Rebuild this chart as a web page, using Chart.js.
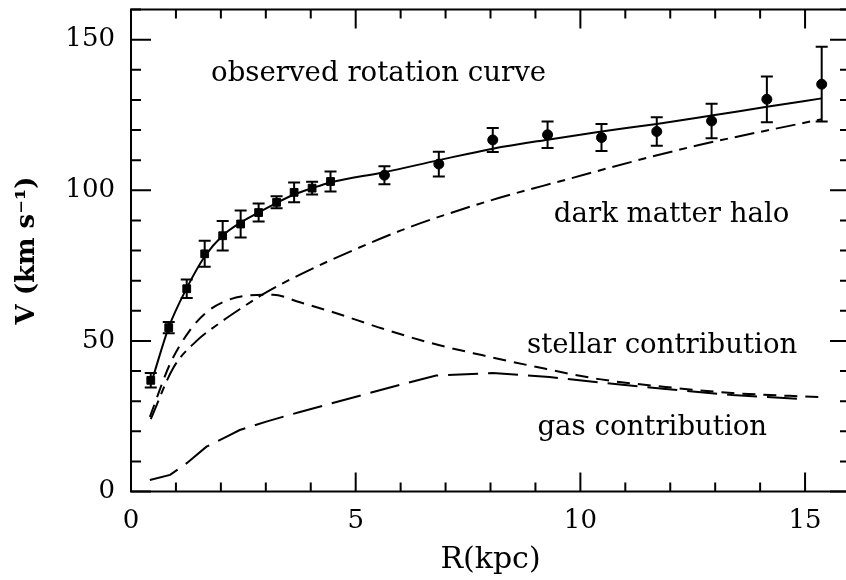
<!DOCTYPE html>
<html>
<head>
<meta charset="utf-8">
<script src="https://cdn.jsdelivr.net/npm/chart.js@4.4.0/dist/chart.umd.min.js"></script>
<style>
  html, body { margin: 0; padding: 0; background: #fff; overflow: hidden; }
  canvas { display: block; }
</style>
</head>
<body>
<canvas id="rc" width="860" height="580"></canvas>
<script>
// Observed rotation velocities (kpc, km/s) with 1-sigma errors
const obsR   = [0.44, 0.84, 1.24, 1.64, 2.04, 2.44, 2.84, 3.24, 3.63, 4.03, 4.44, 5.64, 6.85, 8.05, 9.27, 10.47, 11.70, 12.92, 14.15, 15.37];
const obsV   = [36.9, 54.4, 67.3, 78.9, 84.9, 88.8, 92.6, 96.0, 99.3, 100.7, 102.9, 105.0, 108.7, 116.7, 118.4, 117.5, 119.5, 123.0, 130.2, 135.2];
const obsErr = [2.4, 1.9, 3.1, 4.3, 4.9, 4.5, 3.0, 2.0, 3.3, 2.1, 3.3, 3.0, 4.1, 4.0, 4.4, 4.5, 4.7, 5.7, 7.6, 12.4];

// Total model fit
const fitR = [0.49, 0.84, 1.24, 1.64, 2.04, 2.44, 2.84, 3.24, 3.63, 4.03, 4.44, 5.64, 6.85, 8.05, 9.27, 10.47, 11.70, 12.92, 14.15, 15.37];
const fitV = [38.0, 54.5, 67.5, 78.0, 85.0, 89.3, 92.6, 95.8, 98.6, 100.7, 102.6, 106.0, 110.0, 113.8, 116.8, 119.5, 122.0, 124.8, 127.7, 130.5];

// Dark matter halo component
const haloR = [0.44, 0.94, 1.46, 1.98, 2.42, 2.94, 3.76, 4.93, 5.98, 6.72, 8.20, 9.68, 11.16, 12.64, 15.37];
const haloV = [24.0, 41.0, 50.0, 56.0, 60.5, 65.5, 72.0, 80.0, 86.5, 90.5, 97.5, 103.5, 109.5, 115.0, 123.6];

// Stellar disk component
const starR = [0.42, 0.87, 1.31, 1.68, 2.13, 2.64, 3.16, 3.76, 4.50, 5.61, 6.72, 7.83, 8.94, 10.42, 11.90, 13.38, 15.35];
const starV = [24.8, 42.4, 53.5, 59.5, 63.4, 65.1, 65.3, 62.8, 59.5, 54.0, 49.1, 45.2, 41.6, 37.3, 34.7, 32.7, 31.3];

// Gas component
const gasR = [0.42, 0.87, 1.24, 1.68, 2.13, 2.42, 3.01, 3.76, 5.98, 6.79, 8.05, 9.31, 10.42, 11.90, 13.38, 15.00];
const gasV = [3.8, 5.5, 9.4, 14.9, 18.2, 20.4, 23.2, 26.4, 35.4, 38.5, 39.3, 38.0, 36.2, 34.0, 32.0, 30.6];

// Axis ticks
const xTicks = [0, 5, 10, 15];
const yTicks = [0, 50, 100, 150];

// In-plot labels, placed in data coordinates (R, V at text baseline)
const labelText = ['observed rotation curve', 'dark matter halo', 'stellar contribution', 'gas contribution'];
const labelR    = [5.51, 12.03, 11.82, 11.60];
const labelV    = [136.4, 89.5, 46.1, 18.75];

const pts = (xs, ys) => xs.map((x, i) => ({ x: x, y: ys[i] }));

// Closed frame with inward ticks on all four sides
const frameTicks = {
  id: 'frameTicks',
  afterDraw(chart) {
    const { ctx, chartArea: a, scales: { x, y } } = chart;
    ctx.save();
    ctx.strokeStyle = '#000';
    ctx.lineWidth = 2;
    ctx.beginPath();
    for (let v = 0; v <= 16; v++) {
      const px = x.getPixelForValue(v);
      const len = v % 5 === 0 ? 19 : 9;
      ctx.moveTo(px, a.bottom); ctx.lineTo(px, a.bottom - len);
      ctx.moveTo(px, a.top);    ctx.lineTo(px, a.top + len);
    }
    for (let v = 0; v <= 160; v += 10) {
      const py = y.getPixelForValue(v);
      const len = v % 50 === 0 ? 20 : 10;
      ctx.moveTo(a.left, py);  ctx.lineTo(a.left + len, py);
      ctx.moveTo(a.right, py); ctx.lineTo(a.right - len, py);
    }
    ctx.stroke();
    ctx.strokeRect(a.left, a.top, a.right - a.left, a.bottom - a.top);
    ctx.restore();
  }
};

// Vertical error bars with caps for the observed points
const errorBars = {
  id: 'errorBars',
  afterDatasetsDraw(chart) {
    const { ctx, scales: { x, y } } = chart;
    ctx.save();
    ctx.strokeStyle = '#000';
    ctx.lineWidth = 2;
    ctx.beginPath();
    obsR.forEach((r, i) => {
      const px = x.getPixelForValue(r);
      const hi = y.getPixelForValue(obsV[i] + obsErr[i]);
      const lo = y.getPixelForValue(obsV[i] - obsErr[i]);
      ctx.moveTo(px, hi); ctx.lineTo(px, lo);
      ctx.moveTo(px - 6, hi); ctx.lineTo(px + 6, hi);
      ctx.moveTo(px - 6, lo); ctx.lineTo(px + 6, lo);
    });
    ctx.stroke();
    ctx.restore();
  }
};

// Component labels
const curveLabels = {
  id: 'curveLabels',
  afterDraw(chart) {
    const { ctx, scales: { x, y } } = chart;
    ctx.save();
    ctx.fillStyle = '#000';
    ctx.font = '27.6px "DejaVu Serif"';
    ctx.textAlign = 'center';
    ctx.textBaseline = 'alphabetic';
    labelText.forEach((t, i) => {
      ctx.fillText(t, x.getPixelForValue(labelR[i]), y.getPixelForValue(labelV[i]));
    });
    ctx.restore();
  }
};

const lineDs = (data, dash, smooth) => ({
  data: data,
  showLine: true,
  borderColor: '#000',
  borderWidth: 2,
  borderDash: dash,
  pointRadius: 0,
  fill: false,
  cubicInterpolationMode: smooth ? 'monotone' : 'default',
  tension: 0
});

new Chart(document.getElementById('rc'), {
  type: 'scatter',
  data: {
    datasets: [
      lineDs(pts(fitR, fitV), [], true),
      lineDs(pts(haloR, haloV), [20, 7, 8, 7], true),
      lineDs(pts(starR, starV), [13, 8], true),
      lineDs(pts(gasR, gasV), [30, 10], false),
      {
        data: pts(obsR, obsV),
        showLine: false,
        backgroundColor: '#000',
        borderColor: '#000',
        borderWidth: 1,
        pointStyle: (c) => (c.raw && c.raw.x < 5 ? 'rect' : 'circle'),
        pointRadius: (c) => (c.raw && c.raw.x < 5 ? 5.5 : 5)
      }
    ]
  },
  options: {
    responsive: false,
    animation: false,
    devicePixelRatio: 1,
    layout: { padding: { top: 9.5, right: 10, left: 0, bottom: 0 } },
    plugins: { legend: { display: false }, tooltip: { enabled: false } },
    scales: {
      x: {
        type: 'linear', min: 0, max: 16,
        grid: { display: false, drawTicks: false },
        border: { display: false },
        afterBuildTicks: (s) => { s.ticks = xTicks.map(v => ({ value: v })); },
        afterFit: (s) => { s.height = 88.5; s.paddingLeft = 0; s.paddingRight = 0; },
        ticks: { padding: 14, color: '#000', autoSkip: false, maxRotation: 0,
                 font: { family: 'DejaVu Serif', size: 26 } },
        title: { display: true, text: 'R(kpc)', color: '#000',
                 font: { family: 'DejaVu Serif', size: 30 }, padding: { top: 0, bottom: 2 } }
      },
      y: {
        type: 'linear', min: 0, max: 160,
        grid: { display: false, drawTicks: false },
        border: { display: false },
        afterBuildTicks: (s) => { s.ticks = yTicks.map(v => ({ value: v })); },
        afterFit: (s) => { s.width = 131; s.paddingTop = 0; s.paddingBottom = 0; },
        ticks: { padding: 16, color: '#000', autoSkip: false,
                 font: { family: 'DejaVu Serif', size: 26 } },
        title: { display: true, text: 'V (km s\u207B\u00B9)', color: '#000',
                 font: { family: 'DejaVu Serif', size: 26, weight: 'bold' }, padding: { top: 12, bottom: 0 } }
      }
    }
  },
  plugins: [errorBars, frameTicks, curveLabels]
});
</script>
</body>
</html>
